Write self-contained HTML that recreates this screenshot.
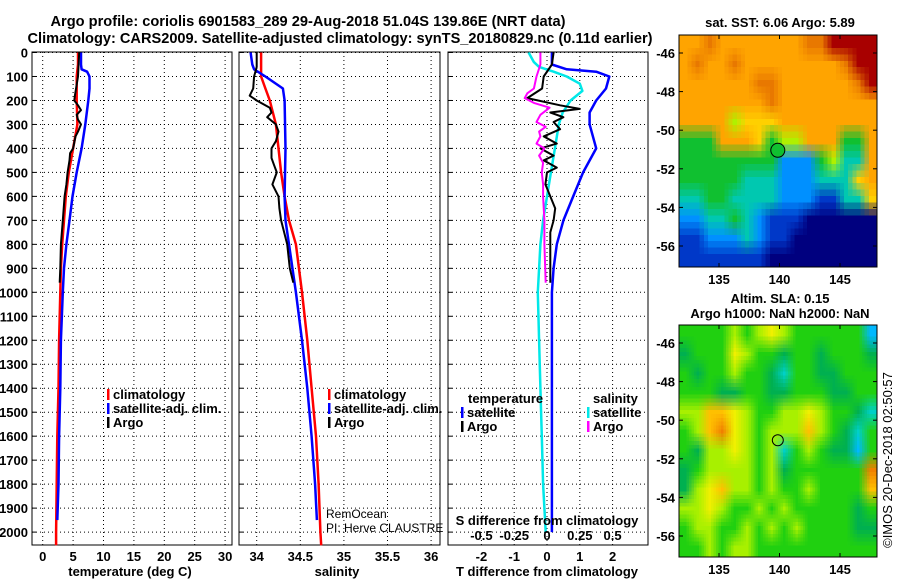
<!DOCTYPE html>
<html><head><meta charset="utf-8"><style>
html,body{margin:0;padding:0;background:#fff;}
svg{display:block;font-family:"Liberation Sans",sans-serif;}
.b{font-weight:bold;font-size:13px;}
</style></head><body>
<svg id="fig" width="900" height="580" viewBox="0 0 900 580" xmlns="http://www.w3.org/2000/svg">
<text x="308" y="26" text-anchor="middle" font-weight="bold" font-size="15" textLength="515" lengthAdjust="spacingAndGlyphs">Argo profile: coriolis 6901583_289 29-Aug-2018 51.04S 139.86E (NRT data)</text>
<text x="340" y="43" text-anchor="middle" font-weight="bold" font-size="15" textLength="625" lengthAdjust="spacingAndGlyphs">Climatology: CARS2009. Satellite-adjusted climatology: synTS_20180829.nc (0.11d earlier)</text>
<g id="g"></g>
</svg>
<script>
// ---------- data ----------
const depthTicks = [0,100,200,300,400,500,600,700,800,900,1000,1100,1200,1300,1400,1500,1600,1700,1800,1900,2000];
const tempTicks = [0,5,10,15,20,25,30];
const salTicks = [34,34.5,35,35.5,36];
const salTickLabels = ["34","34.5","35","35.5","36"];
const tdiffTicks = [-2,-1,0,1,2];
const sdiffTicks = [-0.5,-0.25,0,0.25,0.5];
const sdiffTickLabels = ["-0.5","-0.25","0","0.25","0.5"];

const tClimDepth = [0,50,100,200,300,400,500,600,700,800,900,1000,1200,1400,1600,1800,2000,2055];
const tClim      = [5.8,5.8,5.6,5.6,5.7,5.0,4.3,3.8,3.5,3.2,3.0,2.9,2.7,2.6,2.4,2.3,2.2,2.2];
const tSatDepth = [0,50,70,80,100,150,200,300,400,500,600,700,800,900,1000,1200,1400,1600,1800,1950];
const tSat      = [6.3,6.3,6.4,7.3,7.7,7.7,7.5,7.0,6.4,5.6,4.9,4.4,3.9,3.5,3.3,3.0,2.9,2.7,2.6,2.4];
const tArgoDepth = [0,100,180,200,220,240,260,280,300,330,350,400,420,450,500,550,600,700,800,900,960];
const tArgo      = [6.0,5.8,5.3,5.2,5.8,6.3,5.6,5.8,6.3,5.8,5.4,5.0,4.5,4.4,4.1,3.9,3.6,3.3,3.0,2.9,2.8];

const sClimDepth = [0,100,150,200,300,400,500,600,700,800,1000,1200,1400,1600,1800,2000,2055];
const sClim      = [34.05,34.05,34.1,34.15,34.22,34.25,34.28,34.32,34.37,34.45,34.52,34.58,34.63,34.68,34.71,34.73,34.74];
const sSatDepth = [0,50,70,100,150,200,400,600,700,800,1000,1200,1400,1600,1800,1950];
const sSat      = [33.93,33.95,33.97,34.1,34.3,34.32,34.33,34.32,34.33,34.37,34.45,34.52,34.58,34.63,34.67,34.69];
const sArgoDepth = [0,60,100,150,180,200,230,250,270,300,330,370,400,440,470,500,550,600,650,700,800,900,960];
const sArgo      = [34.0,34.0,33.97,33.96,33.92,34.0,34.15,34.17,34.12,34.22,34.25,34.22,34.17,34.17,34.2,34.23,34.18,34.25,34.26,34.28,34.35,34.38,34.42];

const dtSatDepth = [0,50,70,80,100,150,200,250,300,400,500,600,700,800,900,1000,1500,2000];
const dtSat      = [0.15,0.15,0.6,1.5,1.9,1.8,1.5,1.3,1.3,1.5,1.1,0.8,0.5,0.3,0.2,0.15,0.15,0.15];
const dtArgoDepth = [0,50,100,150,190,220,235,250,270,290,320,350,380,400,430,450,480,500,550,600,650,700,750,800,960];
const dtArgo      = [0.2,0.15,-0.1,-0.15,-0.6,0.4,1.0,0.1,0.5,0.2,0.4,-0.1,0.3,-0.2,0.2,-0.1,0.3,0.0,-0.05,0.1,0.25,0.2,0.1,0.1,0.1];
const dsSatDepth = [0,40,60,80,100,130,160,200,250,300,400,500,600,700,800,900,1000,1200,1400,1600,1800,2000];
const dsSat      = [-0.14,-0.1,-0.06,0.05,0.15,0.25,0.27,0.18,0.12,0.09,0.06,0.03,0.0,-0.03,-0.05,-0.06,-0.07,-0.06,-0.05,-0.04,-0.03,-0.01];
const dsArgoDepth = [0,50,100,150,170,190,210,230,260,290,310,330,350,380,400,430,460,500,550,600,700,800,960];
const dsArgo      = [-0.05,-0.05,-0.08,-0.1,-0.15,-0.17,-0.1,0.02,-0.05,-0.08,-0.01,-0.06,-0.05,-0.08,-0.02,-0.06,-0.03,-0.04,-0.03,-0.03,-0.02,-0.02,-0.01];

// map grids (level index per 1-degree cell, rows north->south, cols west->east)
const sstRows = [
"7787777777889999",
"7877877777777899",
"7777778877777789",
"7777777877777777",
"7777566677777777",
"4447776455777447",
"4444444422245337",
"4444433322233367",
"3344333322211336",
"2233432111000000",
"1122232110000000",
"1111111000000000"];
const sstPalette = ["#00007f","#0038c8","#0090ff","#00c8b0","#10c030","#b0f000","#ffd000","#ffa400","#e87800","#a80000"];
const slaRows = [
"3333434543333330",
"2333543323323332",
"3233433213322333",
"3332233223332233",
"4466543344543321",
"3467543444643213",
"3244543413432203",
"2344443423333337",
"2456443433433336",
"4454334343333323",
"3443343434333322",
"3343443333333333"];
const slaPalette = ["#00b8ff","#00d0c8","#00b050","#20d010","#a8f000","#f0f000","#ffc000","#f08000"];

const mapLatTicks = [-46,-48,-50,-52,-54,-56];
const mapLonTicks = [135,140,145];
const argoLon = 139.86, argoLat = -51.04;

// ---------- drawing ----------
const NS="http://www.w3.org/2000/svg";
const G=document.getElementById('g');
function mk(tag,attrs,parent,txt){const e=document.createElementNS(NS,tag);for(const k in attrs)e.setAttribute(k,attrs[k]);if(txt!==undefined)e.textContent=txt;(parent||G).appendChild(e);return e;}

const TOP=52, BOT=545;
const yD = d => 52.5 + d*0.2398;

function panel(name,x0,x1,xs,ticks,labels){
  const g=mk('g',{});
  
  
  depthTicks.forEach(d=>{
    const l=mk('line',{x1:x0,x2:x1,y1:yD(d),y2:yD(d),stroke:'#000','stroke-width':1,'stroke-dasharray':'1,3'},g);
    
    
    mk('line',{x1:x0,x2:x0+4,y1:yD(d),y2:yD(d),stroke:'#000'},g);
  });
  ticks.forEach((t,i)=>{
    const x=xs(t);
    const l=mk('line',{x1:x,x2:x,y1:TOP,y2:BOT,stroke:'#000','stroke-width':1,'stroke-dasharray':'1,3'},g);
    
    
    if(labels){
      const tx=mk('text',{x:x,y:561,'text-anchor':'middle',class:'b'},g,labels[i]);
      
      
    }
  });
  const r=mk('rect',{x:x0,y:TOP,width:x1-x0,height:BOT-TOP,fill:'none',stroke:'#000','stroke-width':1},g);
  
  
  return g;
}
function series(g,name,xs,depths,vals,color,w){
  const pts=depths.map((d,i)=>xs(vals[i]).toFixed(1)+','+yD(d).toFixed(1)).join(' ');
  const p=mk('polyline',{points:pts,fill:'none',stroke:color,'stroke-width':w,'stroke-linejoin':'round'},g);
  
  
}
function legend(g,x,y,color,label,name){
  mk('rect',{x:x,y:y-10,width:2.5,height:11,fill:color},g);
  const t=mk('text',{x:x+6,y:y,class:'b'},g,label);
  
  
}

depthTicks.forEach(d=>{
  const t=mk('text',{x:28,y:yD(d)+5,'text-anchor':'end',class:'b'},G,String(d));
  
  
});

// panel 1 temperature
const xT = v => 42.7 + v*6.08;
let g1=panel('temperature',32,232,xT,tempTicks,tempTicks.map(String));
series(g1,'temp-climatology-line',xT,tClimDepth,tClim,'#ff0000',2.5);
series(g1,'temp-satellite-line',xT,tSatDepth,tSat,'#0000ff',2.5);
series(g1,'temp-argo-line',xT,tArgoDepth,tArgo,'#000',2);
legend(g1,107,399,'#ff0000','climatology','legend-climatology');
legend(g1,107,413,'#0000ff','satellite-adj. clim.','legend-satellite');
legend(g1,107,427,'#000','Argo','legend-argo');
let t1=mk('text',{x:130,y:576,'text-anchor':'middle',class:'b'},g1,'temperature (deg C)');



// panel 2 salinity
const xS = v => 256.7 + (v-34)*87.2;
let g2=panel('salinity',239,440,xS,salTicks,salTickLabels);
series(g2,'sal-climatology-line',xS,sClimDepth,sClim,'#ff0000',2.5);
series(g2,'sal-satellite-line',xS,sSatDepth,sSat,'#0000ff',2.5);
series(g2,'sal-argo-line',xS,sArgoDepth,sArgo,'#000',2);
legend(g2,328,399,'#ff0000','climatology','legend-climatology');
legend(g2,328,413,'#0000ff','satellite-adj. clim.','legend-satellite');
legend(g2,328,427,'#000','Argo','legend-argo');
let t2=mk('text',{x:337,y:576,'text-anchor':'middle',class:'b'},g2,'salinity');


let c1=mk('text',{x:326,y:518,'font-size':12},g2,'RemOcean');


let c2=mk('text',{x:326,y:532,'font-size':12},g2,'PI: Herve CLAUSTRE');



// panel 3 differences
const xDT = v => 547 + v*32.8;
const xDS = v => xDT(v*4);
let g3=panel('difference',448,648,xDT,tdiffTicks,tdiffTicks.map(String));
series(g3,'tdiff-satellite-line',xDT,dtSatDepth,dtSat,'#0000ff',2.5);
series(g3,'sdiff-satellite-line',xDS,dsSatDepth,dsSat,'#00e8e8',2.5);
series(g3,'tdiff-argo-line',xDT,dtArgoDepth,dtArgo,'#000',2);
series(g3,'sdiff-argo-line',xDS,dsArgoDepth,dsArgo,'#ff00ff',2);
let lt=mk('text',{x:468,y:403,class:'b'},g3,'temperature');


legend(g3,461,417,'#0000ff','satellite','legend-t-satellite');
legend(g3,461,431,'#000','Argo','legend-t-argo');
let ls=mk('text',{x:593,y:403,class:'b'},g3,'salinity');


legend(g3,587,417,'#00e8e8','satellite','legend-s-satellite');
legend(g3,587,431,'#ff00ff','Argo','legend-s-argo');
let st=mk('text',{x:547,y:525,'text-anchor':'middle',class:'b'},g3,'S difference from climatology');


sdiffTicks.forEach((v,i)=>{
  const t=mk('text',{x:xDS(v),y:540,'text-anchor':'middle',class:'b'},g3,sdiffTickLabels[i]);
  
  
});
let tt=mk('text',{x:547,y:576,'text-anchor':'middle',class:'b'},g3,'T difference from climatology');



// maps
function hex2rgb(h){return [parseInt(h.substr(1,2),16),parseInt(h.substr(3,2),16),parseInt(h.substr(5,2),16)];}
function map(name,rows,pal,top,bot,title1,title2,circleFill,r,sub){
  const g=mk('g',{});
  
  
  const x0=679,x1=877;
  const lonX = lon => 719 + (lon-135)*12.1;
  const latY = lat => (top+18) + (-46-lat)*19.3;
  const nr=rows.length,nc=rows[0].length;
  const rgb=pal.map(hex2rgb);
  const col=(ri,ci)=>rgb[+rows[Math.max(0,Math.min(nr-1,ri))][Math.max(0,Math.min(nc-1,ci))]];
  const W=nc*sub,H=nr*sub;
  const cw=(x1-x0)/W,ch=(bot-top)/H;
  for(let j=0;j<H;j++){for(let i=0;i<W;i++){
    const fx=(i+0.5)/sub-0.5, fy=(j+0.5)/sub-0.5;
    const ci=Math.floor(fx), ri=Math.floor(fy), ax=fx-ci, ay=fy-ri;
    const a=col(ri,ci),b=col(ri,ci+1),c=col(ri+1,ci),d=col(ri+1,ci+1);
    const v=[0,1,2].map(k=>Math.round(a[k]*(1-ax)*(1-ay)+b[k]*ax*(1-ay)+c[k]*(1-ax)*ay+d[k]*ax*ay));
    mk('rect',{x:(x0+i*cw).toFixed(2),y:(top+j*ch).toFixed(2),width:(cw+0.6).toFixed(2),height:(ch+0.6).toFixed(2),fill:'rgb('+v.join(',')+')','shape-rendering':'crispEdges'},g);
  }}
  mk('rect',{x:x0,y:top,width:x1-x0,height:bot-top,fill:'none',stroke:'#000'},g);
  mapLatTicks.forEach(l=>{
    const y=latY(l);
    mk('line',{x1:x0,x2:x0+4,y1:y,y2:y,stroke:'#000'},g);
    mk('line',{x1:x1-4,x2:x1,y1:y,y2:y,stroke:'#000'},g);
    const t=mk('text',{x:675,y:y+5,'text-anchor':'end',class:'b'},g,String(l));
    
    
  });
  mapLonTicks.forEach(l=>{
    const x=lonX(l);
    mk('line',{x1:x,x2:x,y1:top,y2:top+4,stroke:'#000'},g);
    mk('line',{x1:x,x2:x,y1:bot-4,y2:bot,stroke:'#000'},g);
    const t=mk('text',{x:x,y:bot+17,'text-anchor':'middle',class:'b'},g,String(l));
    
    
  });
  const c=mk('circle',{cx:lonX(argoLon),cy:latY(argoLat),r:r,fill:circleFill,stroke:'#000','stroke-width':1},g);
  
  
  const t1=mk('text',{x:780,y:title2?top-22:top-8,'text-anchor':'middle',class:'b'},g,title1);
  
  
  if(title2){
    const t2=mk('text',{x:780,y:top-7,'text-anchor':'middle',class:'b'},g,title2);
    
    
  }
}
map('sst-map',sstRows,sstPalette,35,267,'sat. SST: 6.06 Argo: 5.89',null,'#10c030',7,3);
map('sla-map',slaRows,slaPalette,325,557,'Altim. SLA: 0.15','Argo h1000: NaN h2000: NaN','none',5.5,5);
const cr=mk('text',{x:0,y:0,'font-size':13,'text-anchor':'middle',transform:'translate(892,460) rotate(-90)'},G,'©IMOS 20-Dec-2018 02:50:57');


</script>
</body></html>
